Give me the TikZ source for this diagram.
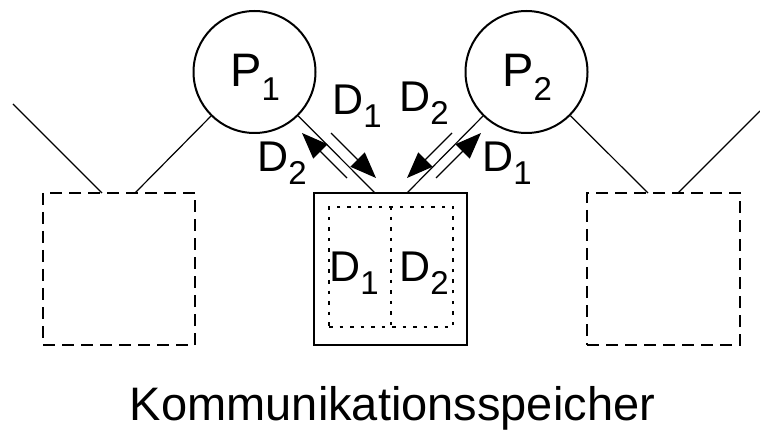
\documentclass[tikz,border=0pt]{standalone}
\usepackage{fontspec}
\setmainfont{Liberation Sans}
\usetikzlibrary{arrows.meta}
\newcommand{\lab}[2]{#1\raisebox{-0.28em}{\fontsize{33}{33}\selectfont #2}}
\begin{document}
\begin{tikzpicture}[x=1pt,y=-1pt,
  proc/.style={circle, draw, line width=2pt, minimum size=122pt, inner sep=0pt},
  store/.style={draw, line width=2.5pt, inner sep=0pt},
  ghost/.style={draw, line width=2.4pt, dash pattern=on 12pt off 7pt, inner sep=0pt},
  dots/.style={draw, line width=1.4pt, dash pattern=on 3.5pt off 7pt, inner sep=0pt},
  wire/.style={line width=1.2pt},
  flow/.style={line width=1.2pt, -{Triangle[length=26pt,width=20pt]}},
  lbl/.style={anchor=base west, inner sep=0pt, font=\fontsize{43}{43}\selectfont},
  big/.style={anchor=base west, inner sep=0pt, font=\fontsize{47}{47}\selectfont}]
\useasboundingbox (0,0) rectangle (760,430);
% processors
\node[proc] (P1) at (254.5,72) {};
\node[proc] (P2) at (526.5,72) {};
\node[big] (t1) at (230,87) {\lab{P}{1}};
\node[big] (t2) at (502,87) {\lab{P}{2}};
% boxes
\node[ghost, minimum width=152pt, minimum height=152pt] (L) at (119,269) {};
\node[store, minimum width=153pt, minimum height=152pt] (M) at (390.5,269) {};
\node[ghost, minimum width=153pt, minimum height=152pt] (R) at (663.5,269) {};
\node[dots, minimum width=124pt, minimum height=120pt] (I) at (391,267) {};
\draw[dots] (I.north) -- (I.south);
\node[lbl] (i1) at (329,282) {\lab{D}{1}};
\node[lbl] (i2) at (399,282) {\lab{D}{2}};
% attachment points
\coordinate (l1) at (102,193);
\coordinate (l2) at (135,193);
\coordinate (m1) at (375,193);
\coordinate (m2) at (407,193);
\coordinate (r1) at (648,193);
\coordinate (r2) at (678,193);
\coordinate (lf) at (13,104);
\coordinate (rf) at (760,111);
% wires
\draw[wire] (lf) -- (l1);
\draw[wire] (P1) -- (l2);
\draw[wire] (P1) -- (m1);
\draw[wire] (P2) -- (m2);
\draw[wire] (P2) -- (r1);
\draw[wire] (r2) -- (rf);
% data flow arrows
\coordinate (a1s) at (347,178); \coordinate (a1e) at (302,133);
\coordinate (a2s) at (331,133); \coordinate (a2e) at (376,178);
\coordinate (a3s) at (452,133); \coordinate (a3e) at (407,178);
\coordinate (a4s) at (436,178); \coordinate (a4e) at (481,133);
\draw[flow] (a1s) -- (a1e);
\draw[flow] (a2s) -- (a2e);
\draw[flow] (a3s) -- (a3e);
\draw[flow] (a4s) -- (a4e);
\node[lbl] (d1) at (332,115) {\lab{D}{1}};
\node[lbl] (d2) at (399,112) {\lab{D}{2}};
\node[lbl] (d3) at (257,172) {\lab{D}{2}};
\node[lbl] (d4) at (482,172) {\lab{D}{1}};
% caption
\node[anchor=base, inner sep=0pt, font=\fontsize{47}{47}\selectfont] (cap) at (392.5,420) {Kommunikationsspeicher};
\end{tikzpicture}
\end{document}
